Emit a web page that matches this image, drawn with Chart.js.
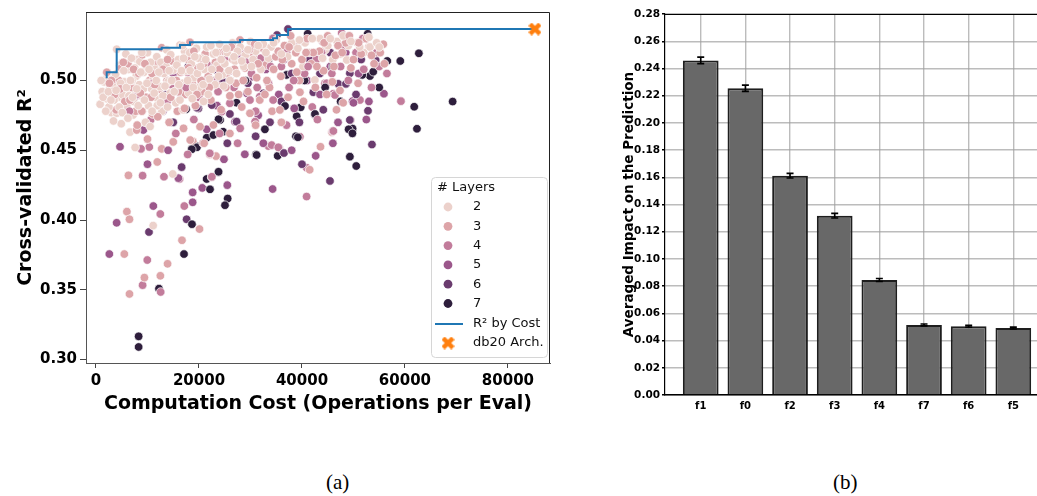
<!DOCTYPE html>
<html>
<head>
<meta charset="utf-8">
<script src="https://cdn.jsdelivr.net/npm/chart.js@4.4.1/dist/chart.umd.min.js"></script>
<style>
  body{margin:0;background:#fff;width:1037px;height:496px;overflow:hidden;position:relative;font-family:"DejaVu Sans";}
  #wa{position:absolute;left:0;top:0;width:560px;height:420px;}
  #wb{position:absolute;left:600px;top:0;width:437px;height:420px;}
  .cap{position:absolute;top:470px;font-family:"Liberation Serif";font-size:21px;color:#000;}
</style>
</head>
<body>
<div id="wa"><canvas id="ca" width="560" height="420"></canvas></div>
<div id="wb"><canvas id="cb" width="437" height="420"></canvas></div>
<div class="cap" style="left:326px">(a)</div>
<div class="cap" style="left:833px">(b)</div>
<script>
// ---- (a) scatter: [cost in thousands of ops, cross-validated R2] per layer count
const LAYERS = [2, 3, 4, 5, 6, 7];
const LAYER_COLORS = ["#ecd1cb", "#dda4a8", "#c27c9b", "#9b578b", "#6a3b6e", "#2e1e3c"];

const L2 = [[0.8,.483],[1.2,.492],[1.6,.499],[2.08,.5016],[2.1,.487],[2.3,.505],[2.7,.495],[3.0,.477],[3.3,.501],[3.7,.4956],[4.0,.4765],[4.02,.5224],
  [4.3,.488],[4.6,.511],[4.9,.469],[5.2,.4896],[5.5,.499],[5.8,.519],[6.0,.481],[6.3,.508],[6.6,.463],[6.8,.492],[7.2,.4753],[7.3,.485],
  [7.6,.452],[7.8,.503],[8.0,.515],[8.4,.497],[8.5,.5135],[8.8,.489],[9.0,.478],[9.3,.506],[9.6,.47],[9.8,.51],[10.2,.482],[10.5,.467],
  [10.8,.494],[11.1,.5004],[11.1,.396],[11.5,.508],[11.8,.517],[12.0,.487],[12.4,.4956],[12.8,.478],[13.2,.505],[13.7,.522],[14.0,.499],
  [14.4,.491],[14.9,.433],[15.0,.5075],[15.5,.484],[16.0,.515],[16.3,.5254],[16.3,.486],[16.8,.498],[17.2,.521],[17.5,.507],[18.0,.491],
  [18.5,.512],[19.0,.502],[19.5,.523],[20.0,.495],[20.5,.516],[21.0,.508],[21.5,.524],[22.0,.501],[22.8,.519],[23.5,.511],[24.0,.526],
  [24.5,.504],[25.5,.52],[26.5,.527],[27.0,.514],[28.0,.524],[29.0,.518],[30.0,.528],[31.0,.521],[32.5,.526],[33.5,.516],[35.0,.529],
  [36.5,.523],[38.0,.527],[40.2,.51],[40.6,.527],[41.5,.52],[42.5,.5004],[43.5,.53],[44.5,.522],[45.0,.525],[46.0,.515],[46.8,.528],
  [47.5,.519],[48.7,.5147],[49.0,.525],[50.7,.527],[52.0,.52],[53.2,.524],[54.5,.527],[1.0,.5],[3.5,.486],[6.9,.516],[10.0,.52],
  [12.6,.513],[14.5,.5185],[7.0,.5],[8.9,.52],[16.8,.525],[18.2,.52],[2.5,.481],[3.8,.5045],[4.8,.498],[6.4,.489],[7.5,.509],[9.2,.494],
  [10.6,.513],[11.9,.482],[13.0,.489],[13.6,.51],[15.4,.5],[16.9,.479],[18.9,.495],[19.9,.516],[20.9,.485],[22.3,.525],[23.1,.497],
  [25.0,.512],[26.0,.5],[27.5,.521],[28.7,.51],[30.5,.515],[32.0,.508],[34.0,.524],[37.2,.517],[39.2,.523],[42.0,.53],[44.0,.516],
  [48.0,.532],[51.2,.524],
  [1.4,.488],[1.9,.478],[2.4,.492],[2.9,.486],[3.4,.471],[3.9,.493],[4.5,.481],[5.1,.477],[5.4,.507],[5.9,.495],[6.2,.473],[6.7,.5],
  [7.1,.488],[7.9,.494],[8.2,.482],[8.7,.506],[9.4,.486],[9.9,.498],[10.3,.508],[10.9,.478],[11.3,.491],[11.7,.5],[12.2,.506],[12.5,.484],
  [13.4,.496],[13.9,.481],[14.2,.507],[14.7,.5],[15.2,.492],[15.7,.511],[16.1,.497],[16.6,.507],[17.0,.516],[17.8,.5],[18.3,.507],
  [18.7,.487],[19.2,.517],[19.7,.505],[20.3,.51],[20.8,.497],[21.3,.515],[21.8,.49],[22.5,.508],[23.3,.52],[23.8,.503],[24.3,.515],
  [24.8,.496],[25.3,.523],[25.8,.507],[26.8,.517],[27.3,.505],[28.3,.514],[29.5,.522],[30.2,.51],[31.5,.525],[33.0,.52],[34.5,.527],
  [36.0,.519],[39.5,.529],[45.5,.53],[49.5,.528],[53.0,.531],[55.0,.524]];

const L3 = [[6.5,.347],[6.0,.406],[6.5,.4005],[5.5,.3756],[9.4,.3587],[12.5,.36],[13.9,.3686],[6.3,.432],[12.75,.451],[11.9,.4416],
  [23.3,.4458],[22.1,.447],[20.1,.3935],[16.7,.3855],[18.8,.4564],[43.6,.4525],[41.5,.436],[46.7,.479],[39.6,.4916],[45.8,.463],
  [55.8,.526],[53.0,.5242],[7.9,.4645],[2.1,.5059],[3.2,.492],[4.4,.5],[5.6,.485],[6.2,.512],[7.0,.495],[7.7,.478],[8.3,.505],[9.0,.5185],
  [9.7,.488],[10.4,.5],[11.0,.476],[11.6,.512],[12.2,.4935],[12.76,.5235],[13.3,.484],[13.8,.5],[14.2,.47],[14.8,.514],[15.3,.495],
  [15.8,.478],[16.4,.506],[17.0,.4657],[17.4,.49],[17.9,.515],[18.25,.5274],[18.3,.4573],[18.7,.498],[19.3,.482],[19.8,.509],[20.2,.4669],
  [20.6,.492],[21.2,.519],[21.8,.503],[22.3,.486],[22.8,.4681],[23.2,.513],[23.8,.496],[24.3,.479],[24.9,.521],[25.4,.505],[26.0,.489],
  [26.6,.515],[27.2,.498],[27.96,.529],[28.3,.481],[28.9,.509],[29.5,.492],[29.9,.4765],[30.5,.518],[31.2,.502],[31.8,.486],[32.4,.523],
  [33.0,.511],[33.7,.495],[34.2,.478],[34.9,.517],[35.7,.4789],[35.9,.503],[36.6,.525],[37.3,.488],[38.0,.512],[38.8,.52],[39.5,.5],
  [40.3,.485],[41.0,.53],[41.8,.512],[42.6,.495],[43.4,.521],[44.2,.507],[45.0,.532],[45.9,.499],[46.5,.518],[47.38,.4928],[48.0,.484],
  [48.5,.527],[49.5,.509],[50.9,.498],[51.5,.519],[52.5,.53],[54.0,.512],[55.2,.52],[3.9,.479],[8.0,.468],[10.0,.458],[15.0,.456],
  [21.0,.455],[26.0,.462],[31.0,.468],[36.0,.47],[3.0,.5],[4.9,.509],[8.9,.478],[10.9,.505],[13.9,.515],[16.0,.492],[19.0,.521],
  [20.4,.5],[24.0,.508],[26.3,.524],[27.7,.49],[30.8,.526],[33.2,.5],[35.4,.521],[37.8,.532],[40.0,.515],[42.2,.52],[44.8,.49],
  [47.0,.525],[50.0,.515],
  [2.6,.498],[3.6,.49],[4.7,.494],[5.3,.513],[6.6,.486],[7.3,.508],[8.6,.491],[9.5,.512],[10.7,.488],[11.4,.497],[12.0,.474],[13.0,.508],
  [14.5,.488],[15.6,.5],[17.2,.48],[18.0,.509],[19.6,.49],[20.9,.512],[22.0,.495],[23.6,.52],[25.2,.495],[26.9,.508],[28.6,.5],[29.8,.522],
  [31.5,.512],[32.8,.49],[34.5,.508],[36.2,.515],[37.5,.524],[39.0,.506],[40.8,.52],[42.9,.51],[44.3,.527],[46.2,.51],[47.8,.52],
  [49.2,.532],[51.0,.527],[53.5,.518],[56.0,.512]];

const L4 = [[9.05,.3533],[12.49,.4043],[9.05,.4318],[13.2,.431],[16.23,.4294],[17.15,.41],[9.96,.3713],[10.35,.4523],[8.74,.451],
  [12.56,.3484],[22.46,.4306],[33.46,.453],[40.9,.4168],[40.9,.4375],[35.6,.4516],[59.22,.4852],[49.45,.4717],[51.26,.486],[47.71,.534],
  [45.96,.4637],[42.0,.481],[46.08,.4905],[44.47,.498],[34.11,.4537],[39.29,.4595],[12.4,.5056],[16.3,.4932],[12.1,.4824],[10.6,.4717],
  [31.8,.4884],[44.8,.498],[46.4,.4896],[46.1,.4638],[39.6,.4597],[30.9,.4705],[34.4,.486],[29.9,.486],[26.0,.4837],[24.4,.4777],
  [28.0,.4657],[22.1,.4478],[22.5,.431],[35.4,.4521],[34.37,.5302],[14.5,.497],[18.0,.505],[20.0,.488],[21.5,.512],[23.0,.5],[25.0,.515],
  [26.8,.495],[28.5,.52],[30.2,.505],[32.0,.516],[33.5,.498],[36.0,.51],[37.5,.495],[39.0,.524],[40.5,.505],[42.8,.515],[44.0,.528],
  [47.5,.51],[49.0,.5],[50.5,.52],[52.0,.508],[53.5,.495],[55.0,.51],[19.0,.472],[24.0,.462],[27.5,.455],[31.0,.478],[37.0,.468],
  [43.0,.472],[8.0,.49],[11.0,.498],[6.5,.478],[15.5,.462],[17.8,.447],[20.8,.455],
  [13.8,.485],[17.5,.495],[20.5,.5],[23.7,.492],[26.2,.507],[29.2,.513],[31.3,.495],[33.9,.51],[37.0,.52],[38.4,.5],[41.2,.51],
  [43.8,.52],[45.8,.505],[48.2,.525],[51.8,.53],[54.5,.52],[56.5,.505]];

const L5 = [[2.59,.3756],[4.01,.398],[11.13,.41],[18.77,.4127],[18.77,.4198],[4.66,.4525],[20.64,.423],[24.85,.4435],[34.3,.4222],
  [42.66,.446],[55.92,.4905],[49.83,.4852],[9.2,.4645],[30.5,.5027],[16.3,.4908],[27.0,.4705],[29.3,.4908],[28.9,.4471],[50.0,.484],
  [7.5,.488],[13.0,.478],[15.0,.505],[19.5,.495],[22.0,.51],[23.5,.482],[26.0,.5],[28.0,.518],[31.5,.475],[33.0,.508],[35.5,.49],
  [36.5,.515],[38.5,.48],[41.0,.5],[43.5,.49],[45.5,.51],[47.0,.47],[48.5,.52],[51.0,.505],[53.0,.485],[10.0,.44],[14.0,.45],
  [21.5,.465],[32.5,.455],[38.0,.45],[46.0,.455],[52.5,.472],[16.0,.43],[25.5,.425]];

const L6 = [[16.63,.4379],[17.6,.4005],[10.29,.3914],[53.59,.4541],[45.44,.428],[49.3,.4455],[52.82,.4783],[54.31,.5147],[47.05,.4976],
  [48.54,.4976],[42.2,.4916],[44.14,.479],[33.79,.4701],[17.9,.5099],[23.4,.5075],[19.9,.48],[28.6,.5123],[32.8,.5147],[35.15,.5326],
  [37.28,.5369],[49.3,.5052],[42.5,.4753],[49.3,.4717],[32.5,.4908],[19.6,.4805],[27.3,.4705],[22.5,.4824],[13.5,.49],[15.0,.47],
  [21.0,.495],[24.5,.5],[26.0,.476],[29.5,.498],[31.0,.46],[36.0,.485],[38.0,.505],[39.5,.47],[41.5,.515],[43.5,.505],[45.5,.52],
  [50.5,.49],[51.5,.515],[36.5,.448],[25.5,.455],[40.0,.44]];

const L7 = [[8.28,.3166],[8.28,.309],[12.23,.3508],[17.09,.3756],[18.64,.397],[18.58,.4511],[19.67,.4528],[21.49,.4294],[22.14,.422],
  [23.75,.4343],[25.57,.4154],[25.05,.4106],[31.07,.447],[35.28,.446],[50.54,.4387],[62.7,.5195],[69.26,.4849],[61.8,.4812],[62.33,.4654],
  [56.56,.514],[59.09,.514],[53.2,.5032],[53.84,.5063],[51.71,.504],[49.83,.4655],[49.06,.465],[52.76,.5335],[41.11,.5335],[39.75,.4808],
  [42.52,.476],[38.97,.4744],[38.83,.46],[37.0,.504],[39.2,.4593],[32.8,.465],[36.7,.4817],[27.3,.4841],[24.1,.4717],[24.7,.4633],
  [21.5,.459],[22.8,.4609],[19.6,.4521],[18.6,.4507],[23.8,.4346],[31.2,.4466],[49.8,.4621],[49.3,.4454],[17.5,.4794],[23.8,.4722],
  [29.0,.5],[33.5,.515],[44.5,.495],[46.0,.51],[47.5,.485],[55.0,.495],[40.5,.5]];

// best R2 reached for a given cost (step line)
const STEP_X = [2078, 2078, 4019, 12757, 16311, 18252, 27961, 34369, 35146, 37282, 85243];
const STEP_Y = [0.5016, 0.5059, 0.5224, 0.5235, 0.5254, 0.5274, 0.5290, 0.5302, 0.5326, 0.5369, 0.5369];
const DB20 = {x: 85243, y: 0.5369};

const X_TICKS = [0, 20000, 40000, 60000, 80000];
const Y_TICKS = [0.30, 0.35, 0.40, 0.45, 0.50];

// ---- (b) feature importance
const FEATURES = ["f1", "f0", "f2", "f3", "f4", "f7", "f6", "f5"];
const IMPACT = [0.2459, 0.2254, 0.1612, 0.1318, 0.0845, 0.0515, 0.0505, 0.0492];
const IMPACT_ERR = [0.0024, 0.0023, 0.0017, 0.0017, 0.0011, 0.0007, 0.0007, 0.0007];
const B_TICKS = [0, 0.02, 0.04, 0.06, 0.08, 0.10, 0.12, 0.14, 0.16, 0.18, 0.20, 0.22, 0.24, 0.26, 0.28];

function el(id){ return document.getElementById(id); }

function makeXMark(size, lw){
  const cv = document.createElement("canvas");
  cv.width = cv.height = size;
  const g = cv.getContext("2d");
  g.strokeStyle = "#ff7f0e";
  g.lineWidth = lw;
  g.lineCap = "butt";
  const p = lw * 0.36;
  g.beginPath();
  g.moveTo(p, p); g.lineTo(size - p, size - p);
  g.moveTo(size - p, p); g.lineTo(p, size - p);
  g.stroke();
  return cv;
}
const xMark = makeXMark(13, 4.4);

// interleave layers so the colours mix like the original draw order
const pts = [], cols = [];
const layerData = [L2, L3, L4, L5, L6, L7];
const maxLen = Math.max(...layerData.map(a => a.length));
for(let i = 0; i < maxLen; i++){
  layerData.forEach((arr, k) => {
    if(arr[i]){ pts.push({x: arr[i][0] * 1000, y: arr[i][1]}); cols.push(LAYER_COLORS[k]); }
  });
}
const stepPts = STEP_X.map((x, i) => ({x, y: STEP_Y[i]}));

const boldTick = size => ({family: "DejaVu Sans", size, weight: "bold"});

const frameA = {
  id: "frameA",
  afterDraw(chart){
    const {ctx, chartArea: a} = chart;
    ctx.save();
    ctx.strokeStyle = "#222";
    ctx.lineWidth = 1;
    ctx.beginPath();
    ctx.moveTo(a.left, a.top + 0.5); ctx.lineTo(a.right - 0.5, a.top + 0.5); ctx.lineTo(a.right - 0.5, a.bottom);
    ctx.stroke();

    // legend
    const lx = 431, ly = 177, lw = 116, lh = 180;
    ctx.beginPath();
    ctx.roundRect(lx + 0.5, ly + 0.5, lw, lh, 4);
    ctx.fillStyle = "rgba(255,255,255,0.85)";
    ctx.fill();
    ctx.strokeStyle = "#d6d6d6";
    ctx.stroke();
    ctx.font = '13px "DejaVu Sans"';
    ctx.fillStyle = "#111";
    ctx.textBaseline = "middle";
    ctx.textAlign = "left";
    ctx.fillText("# Layers", 437, 188);
    LAYERS.forEach((L, i) => {
      const y = 207 + i * 19.3;
      ctx.beginPath();
      ctx.arc(448, y, 4.4, 0, Math.PI * 2);
      ctx.fillStyle = LAYER_COLORS[i];
      ctx.fill();
      ctx.fillStyle = "#111";
      ctx.fillText(String(L), 473, y);
    });
    ctx.strokeStyle = "#1f77b4";
    ctx.lineWidth = 2;
    ctx.beginPath(); ctx.moveTo(435, 324); ctx.lineTo(463, 324); ctx.stroke();
    ctx.fillText("R² by Cost", 473, 324);
    ctx.drawImage(xMark, 448 - 6.5, 343 - 6.5);
    ctx.fillText("db20 Arch.", 473, 343);
    ctx.restore();
  }
};

new Chart(el("ca"), {
  type: "scatter",
  data: {
    datasets: [
      { type: "line", data: stepPts, stepped: "before", borderColor: "#1f77b4", borderWidth: 2,
        pointRadius: 0, fill: false, order: 1 },
      { type: "scatter", data: pts, backgroundColor: cols, borderColor: "#ffffff", borderWidth: 0.7,
        pointRadius: 4.3, order: 2 },
      { type: "scatter", data: [DB20], pointStyle: xMark, pointRadius: 7, order: 0 }
    ]
  },
  options: {
    responsive: false, animation: false, events: [],
    layout: { padding: { left: 0, right: 10, top: 12, bottom: 0 } },
    plugins: { legend: { display: false }, tooltip: { enabled: false } },
    scales: {
      x: {
        type: "linear", min: -1942, max: 88167,
        afterBuildTicks: s => { s.ticks = X_TICKS.map(v => ({value: v})); },
        afterFit: s => { s.height = 57; },
        ticks: { font: boldTick(15), color: "#000", padding: 4, callback: v => String(v) },
        grid: { drawOnChartArea: false, tickLength: 5, tickColor: "#444" },
        border: { color: "#555", width: 1 },
        title: { display: true, text: "Computation Cost (Operations per Eval)", color: "#000",
          font: { family: "DejaVu Sans", size: 19, weight: "bold" }, padding: { top: 0, bottom: 5 } }
      },
      y: {
        min: 0.2975, max: 0.5491,
        afterBuildTicks: s => { s.ticks = Y_TICKS.map(v => ({value: v})); },
        afterFit: s => { s.width = 86; },
        ticks: { font: boldTick(15), color: "#000", padding: 3, callback: v => v.toFixed(2) },
        grid: { drawOnChartArea: false, tickLength: 6, tickColor: "#444" },
        border: { color: "#555", width: 1 },
        title: { display: true, text: "Cross-validated R²", color: "#000",
          font: { family: "DejaVu Sans", size: 19, weight: "bold" }, padding: { top: 15, bottom: 0 } }
      }
    }
  },
  plugins: [frameA]
});

const errorBars = {
  id: "errorBars",
  afterDraw(chart){
    const {ctx, chartArea: a} = chart;
    const ys = chart.scales.y;
    const meta = chart.getDatasetMeta(0);
    ctx.save();
    ctx.strokeStyle = "#000";
    ctx.lineWidth = 1.6;
    meta.data.forEach((bar, i) => {
      const top = ys.getPixelForValue(IMPACT[i] + IMPACT_ERR[i]);
      const bot = ys.getPixelForValue(IMPACT[i] - IMPACT_ERR[i]);
      ctx.beginPath();
      ctx.moveTo(bar.x, top); ctx.lineTo(bar.x, bot);
      ctx.moveTo(bar.x - 3.5, top); ctx.lineTo(bar.x + 3.5, top);
      ctx.moveTo(bar.x - 3.5, bot); ctx.lineTo(bar.x + 3.5, bot);
      ctx.stroke();
    });
    ctx.strokeStyle = "#000";
    ctx.lineWidth = 1.2;
    ctx.beginPath();
    ctx.moveTo(a.left, a.top + 0.5); ctx.lineTo(a.right, a.top + 0.5);
    ctx.stroke();
    ctx.restore();
  }
};

new Chart(el("cb"), {
  type: "bar",
  data: {
    datasets: [{
      data: FEATURES.map((f, i) => ({x: i, y: IMPACT[i]})),
      backgroundColor: "#686868", borderColor: "#1e1e1e", borderWidth: 2,
      barPercentage: 0.8, categoryPercentage: 1
    }]
  },
  options: {
    responsive: false, animation: false, events: [],
    layout: { padding: { left: 0, right: 0, top: 14, bottom: 0 } },
    plugins: { legend: { display: false }, tooltip: { enabled: false } },
    scales: {
      x: {
        type: "linear", min: -0.8, max: 7.53, offset: false, z: 1,
        afterBuildTicks: s => { s.ticks = FEATURES.map((f, i) => ({value: i})); },
        afterFit: s => { s.height = 25; },
        ticks: { font: boldTick(10), color: "#000", padding: 5, callback: v => FEATURES[v] },
        grid: { offset: false, color: "rgba(160,160,160,0.7)", lineWidth: 1.4, drawTicks: false },
        border: { color: "#000", width: 1.5 }
      },
      y: {
        min: 0, max: 0.28, z: 1,
        afterBuildTicks: s => { s.ticks = B_TICKS.map(v => ({value: v})); },
        afterFit: s => { s.width = 65; },
        ticks: { font: boldTick(10.5), color: "#000", padding: 2, callback: v => v.toFixed(2) },
        grid: { color: "rgba(160,160,160,0.7)", lineWidth: 1.4, tickLength: 3, tickColor: "#000" },
        border: { color: "#000", width: 1.2 },
        title: { display: true, text: "Averaged Impact on the Prediction", color: "#000",
          font: { family: "DejaVu Sans", size: 13.5, weight: "bold" }, padding: { top: 21, bottom: 0 } }
      }
    }
  },
  plugins: [errorBars]
});
</script>
</body>
</html>
